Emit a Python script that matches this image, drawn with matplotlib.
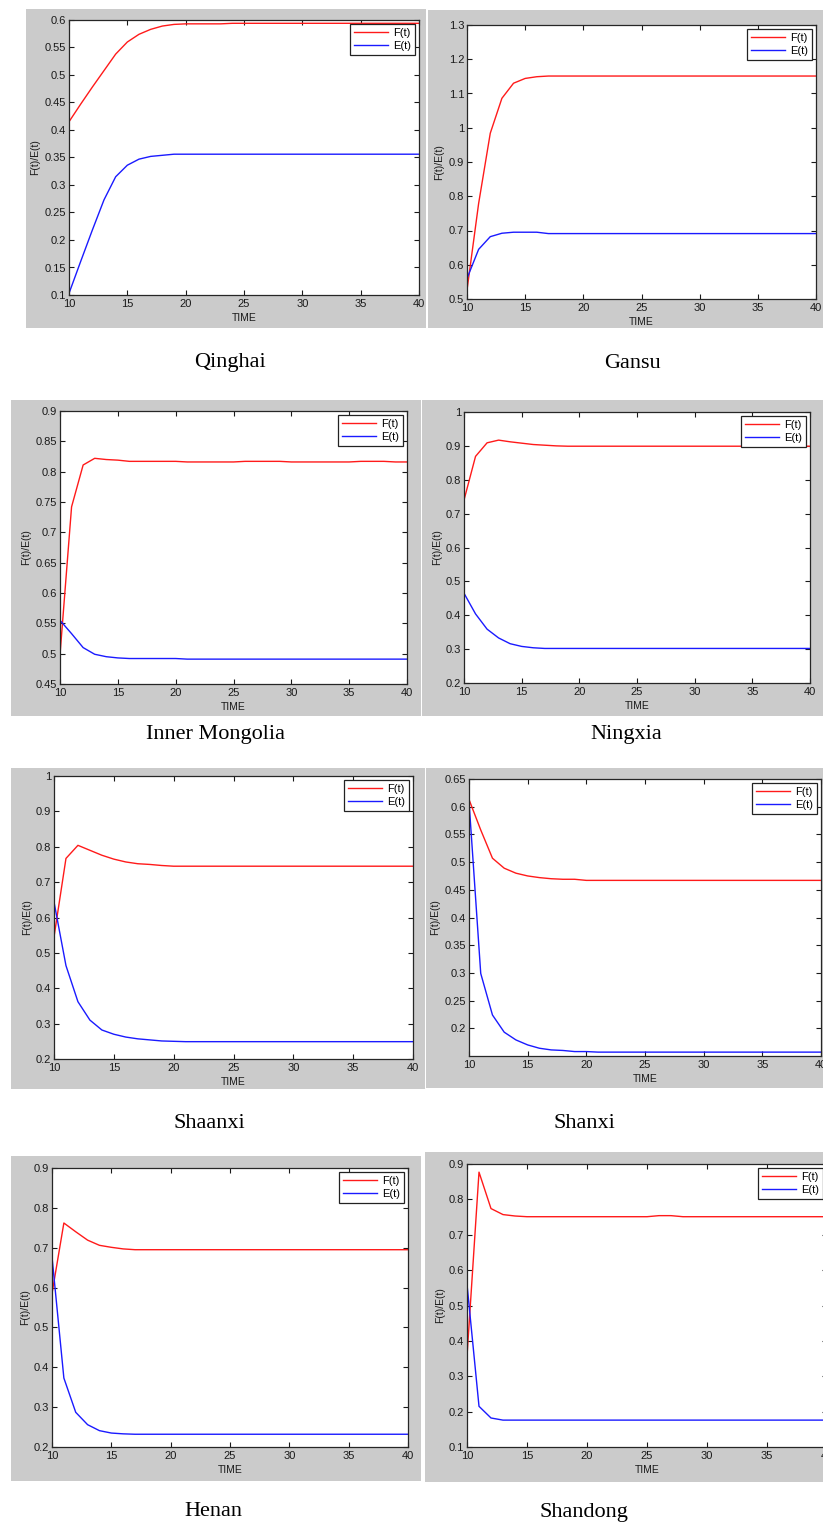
import matplotlib
matplotlib.use('Agg')
import matplotlib.pyplot as plt
from matplotlib.patches import Rectangle
from matplotlib.ticker import FormatStrFormatter

W, H = 823, 1523

TIME = [10, 11, 12, 13, 14, 15, 16, 17, 18, 19, 20, 21, 22, 23, 24, 25,
        26, 27, 28, 29, 30, 31, 32, 33, 34, 35, 36, 37, 38, 39, 40]

regions = ["Qinghai", "Gansu", "Inner Mongolia", "Ningxia",
           "Shaanxi", "Shanxi", "Henan", "Shandong"]

qinghai_F = [0.415, 0.447, 0.478, 0.508, 0.538, 0.560, 0.574, 0.583, 0.589, 0.592, 0.593,
             0.593, 0.593, 0.593, 0.594, 0.594, 0.594, 0.594, 0.594, 0.594, 0.594,
             0.594, 0.594, 0.594, 0.594, 0.594, 0.594, 0.594, 0.594, 0.594, 0.594]
qinghai_E = [0.103, 0.161, 0.218, 0.273, 0.315, 0.336, 0.347, 0.352, 0.354, 0.356, 0.356,
             0.356, 0.356, 0.356, 0.356, 0.356, 0.356, 0.356, 0.356, 0.356, 0.356,
             0.356, 0.356, 0.356, 0.356, 0.356, 0.356, 0.356, 0.356, 0.356, 0.356]

gansu_F = [0.526, 0.779, 0.984, 1.086, 1.130, 1.144, 1.149, 1.151, 1.151, 1.151, 1.151,
           1.151, 1.151, 1.151, 1.151, 1.151, 1.151, 1.151, 1.151, 1.151, 1.151,
           1.151, 1.151, 1.151, 1.151, 1.151, 1.151, 1.151, 1.151, 1.151, 1.151]
gansu_E = [0.560, 0.645, 0.682, 0.692, 0.695, 0.695, 0.695, 0.691, 0.691, 0.691, 0.691,
           0.691, 0.691, 0.691, 0.691, 0.691, 0.691, 0.691, 0.691, 0.691, 0.691,
           0.691, 0.691, 0.691, 0.691, 0.691, 0.691, 0.691, 0.691, 0.691, 0.691]

inner_mongolia_F = [0.498, 0.742, 0.811, 0.822, 0.820, 0.819, 0.817, 0.817, 0.817, 0.817, 0.817,
                    0.816, 0.816, 0.816, 0.816, 0.816, 0.817, 0.817, 0.817, 0.817, 0.816,
                    0.816, 0.816, 0.816, 0.816, 0.816, 0.817, 0.817, 0.817, 0.816, 0.816]
inner_mongolia_E = [0.555, 0.533, 0.510, 0.499, 0.495, 0.493, 0.492, 0.492, 0.492, 0.492, 0.492,
                    0.491, 0.491, 0.491, 0.491, 0.491, 0.491, 0.491, 0.491, 0.491, 0.491,
                    0.491, 0.491, 0.491, 0.491, 0.491, 0.491, 0.491, 0.491, 0.491, 0.491]

ningxia_F = [0.740, 0.869, 0.909, 0.917, 0.912, 0.908, 0.904, 0.902, 0.900, 0.899, 0.899,
             0.899, 0.899, 0.899, 0.899, 0.899, 0.899, 0.899, 0.899, 0.899, 0.899,
             0.899, 0.899, 0.899, 0.899, 0.899, 0.899, 0.899, 0.899, 0.899, 0.899]
ningxia_E = [0.465, 0.404, 0.359, 0.333, 0.316, 0.308, 0.304, 0.302, 0.302, 0.302, 0.302,
             0.302, 0.302, 0.302, 0.302, 0.302, 0.302, 0.302, 0.302, 0.302, 0.302,
             0.302, 0.302, 0.302, 0.302, 0.302, 0.302, 0.302, 0.302, 0.302, 0.302]

shaanxi_F = [0.545, 0.767, 0.804, 0.790, 0.776, 0.765, 0.757, 0.752, 0.750, 0.747, 0.745,
             0.745, 0.745, 0.745, 0.745, 0.745, 0.745, 0.745, 0.745, 0.745, 0.745,
             0.745, 0.745, 0.745, 0.745, 0.745, 0.745, 0.745, 0.745, 0.745, 0.745]
shaanxi_E = [0.644, 0.464, 0.362, 0.310, 0.282, 0.270, 0.262, 0.257, 0.254, 0.251, 0.250,
             0.249, 0.249, 0.249, 0.249, 0.249, 0.249, 0.249, 0.249, 0.249, 0.249,
             0.249, 0.249, 0.249, 0.249, 0.249, 0.249, 0.249, 0.249, 0.249, 0.249]

shanxi_F = [0.613, 0.558, 0.507, 0.489, 0.480, 0.475, 0.472, 0.470, 0.469, 0.469, 0.467,
            0.467, 0.467, 0.467, 0.467, 0.467, 0.467, 0.467, 0.467, 0.467, 0.467,
            0.467, 0.467, 0.467, 0.467, 0.467, 0.467, 0.467, 0.467, 0.467, 0.467]
shanxi_E = [0.610, 0.299, 0.224, 0.193, 0.179, 0.170, 0.164, 0.161, 0.160, 0.158, 0.158,
            0.157, 0.157, 0.157, 0.157, 0.157, 0.157, 0.157, 0.157, 0.157, 0.157,
            0.157, 0.157, 0.157, 0.157, 0.157, 0.157, 0.157, 0.157, 0.157, 0.157]

henan_F = [0.585, 0.762, 0.740, 0.719, 0.706, 0.701, 0.697, 0.695, 0.695, 0.695, 0.695,
           0.695, 0.695, 0.695, 0.695, 0.695, 0.695, 0.695, 0.695, 0.695, 0.695,
           0.695, 0.695, 0.695, 0.695, 0.695, 0.695, 0.695, 0.695, 0.695, 0.695]
henan_E = [0.677, 0.373, 0.287, 0.256, 0.241, 0.235, 0.233, 0.232, 0.232, 0.232, 0.232,
           0.232, 0.232, 0.232, 0.232, 0.232, 0.232, 0.232, 0.232, 0.232, 0.232,
           0.232, 0.232, 0.232, 0.232, 0.232, 0.232, 0.232, 0.232, 0.232, 0.232]

shandong_F = [0.356, 0.877, 0.774, 0.757, 0.753, 0.751, 0.751, 0.751, 0.751, 0.751, 0.751,
              0.751, 0.751, 0.751, 0.751, 0.751, 0.754, 0.754, 0.751, 0.751, 0.751,
              0.751, 0.751, 0.751, 0.751, 0.751, 0.751, 0.751, 0.751, 0.751, 0.751]
shandong_E = [0.560, 0.215, 0.182, 0.176, 0.176, 0.176, 0.176, 0.176, 0.176, 0.176, 0.176,
              0.176, 0.176, 0.176, 0.176, 0.176, 0.176, 0.176, 0.176, 0.176, 0.176,
              0.176, 0.176, 0.176, 0.176, 0.176, 0.176, 0.176, 0.176, 0.176, 0.176]

F_series = [qinghai_F, gansu_F, inner_mongolia_F, ningxia_F,
            shaanxi_F, shanxi_F, henan_F, shandong_F]
E_series = [qinghai_E, gansu_E, inner_mongolia_E, ningxia_E,
            shaanxi_E, shanxi_E, henan_E, shandong_E]

y_limits = [(0.1, 0.6), (0.5, 1.3), (0.45, 0.9), (0.2, 1.0),
            (0.2, 1.0), (0.15, 0.65), (0.2, 0.9), (0.1, 0.9)]
y_ticks = [
    [0.1, 0.15, 0.2, 0.25, 0.3, 0.35, 0.4, 0.45, 0.5, 0.55, 0.6],
    [0.5, 0.6, 0.7, 0.8, 0.9, 1.0, 1.1, 1.2, 1.3],
    [0.45, 0.5, 0.55, 0.6, 0.65, 0.7, 0.75, 0.8, 0.85, 0.9],
    [0.2, 0.3, 0.4, 0.5, 0.6, 0.7, 0.8, 0.9, 1.0],
    [0.2, 0.3, 0.4, 0.5, 0.6, 0.7, 0.8, 0.9, 1.0],
    [0.2, 0.25, 0.3, 0.35, 0.4, 0.45, 0.5, 0.55, 0.6, 0.65],
    [0.2, 0.3, 0.4, 0.5, 0.6, 0.7, 0.8, 0.9],
    [0.1, 0.2, 0.3, 0.4, 0.5, 0.6, 0.7, 0.8, 0.9],
]
x_ticks = [10, 15, 20, 25, 30, 35, 40]

# layout in pixels (left, top, right, bottom)
grey_boxes = [(26, 9, 426, 328), (428, 10, 823, 328),
              (11, 400, 421, 716), (422, 400, 823, 716),
              (11, 768, 425, 1089), (426, 768, 823, 1088),
              (11, 1156, 421, 1481), (425, 1152, 823, 1482)]
axes_boxes = [(69, 20, 419, 295), (467, 25, 816, 299),
              (60, 411, 407, 684), (464, 412, 810, 683),
              (54, 776, 413, 1059), (469, 779, 821, 1056),
              (52, 1168, 408, 1447), (467, 1164, 827, 1447)]
title_pos = [(230, 363), (632, 363), (216, 735), (626, 735),
             (209, 1123), (584, 1123), (213, 1511), (584, 1512)]

plt.rcParams['font.family'] = ['Liberation Sans', 'DejaVu Sans']

fig = plt.figure(figsize=(W / 100, H / 100), dpi=100)
fig.patch.set_facecolor('white')


def fbox(l, t, r, b):
    return [l / W, 1 - b / H, (r - l) / W, (b - t) / H]


for i in range(8):
    gl, gt, gr, gb = grey_boxes[i]
    fig.add_artist(Rectangle((gl / W, 1 - gb / H), (gr - gl) / W, (gb - gt) / H,
                             transform=fig.transFigure, facecolor='#cbcbcb',
                             edgecolor='none', zorder=-5))
    ax = fig.add_axes(fbox(*axes_boxes[i]))
    ax.set_facecolor('white')
    ax.plot(TIME, F_series[i], color='#ff1a1a', lw=1.0, label='F(t)')
    ax.plot(TIME, E_series[i], color='#1a1aff', lw=1.0, label='E(t)')
    ax.set_xlim(10, 40)
    ax.set_ylim(*y_limits[i])
    ax.set_xticks(x_ticks)
    ax.set_yticks(y_ticks[i])
    ax.yaxis.set_major_formatter(FormatStrFormatter('%g'))
    ax.tick_params(direction='in', top=True, right=True, length=3.5, width=0.8,
                   labelsize=8, colors='#1a1a1a')
    ax.tick_params(axis='x', pad=3)
    ax.tick_params(axis='y', pad=2)
    for s in ax.spines.values():
        s.set_color('#262626')
        s.set_linewidth(0.9)
    ax.set_xlabel('TIME', fontsize=7.5, labelpad=3, color='#1a1a1a')
    ax.set_ylabel('F(t)/E(t)', fontsize=7.5, labelpad=3, color='#1a1a1a')
    leg = ax.legend(loc='upper right', fontsize=8, frameon=True, fancybox=False,
                    edgecolor='#222222', framealpha=1, handlelength=3.0,
                    borderaxespad=0.35, borderpad=0.35, labelspacing=0.3,
                    handletextpad=0.5)
    leg.get_frame().set_linewidth(0.9)
    cx, cy = title_pos[i]
    fig.text(cx / W, 1 - cy / H, regions[i], ha='center', va='center',
             family=['Liberation Serif', 'DejaVu Serif'], fontsize=16, color='black')

fig.savefig('out.png', dpi=100, facecolor='white')
